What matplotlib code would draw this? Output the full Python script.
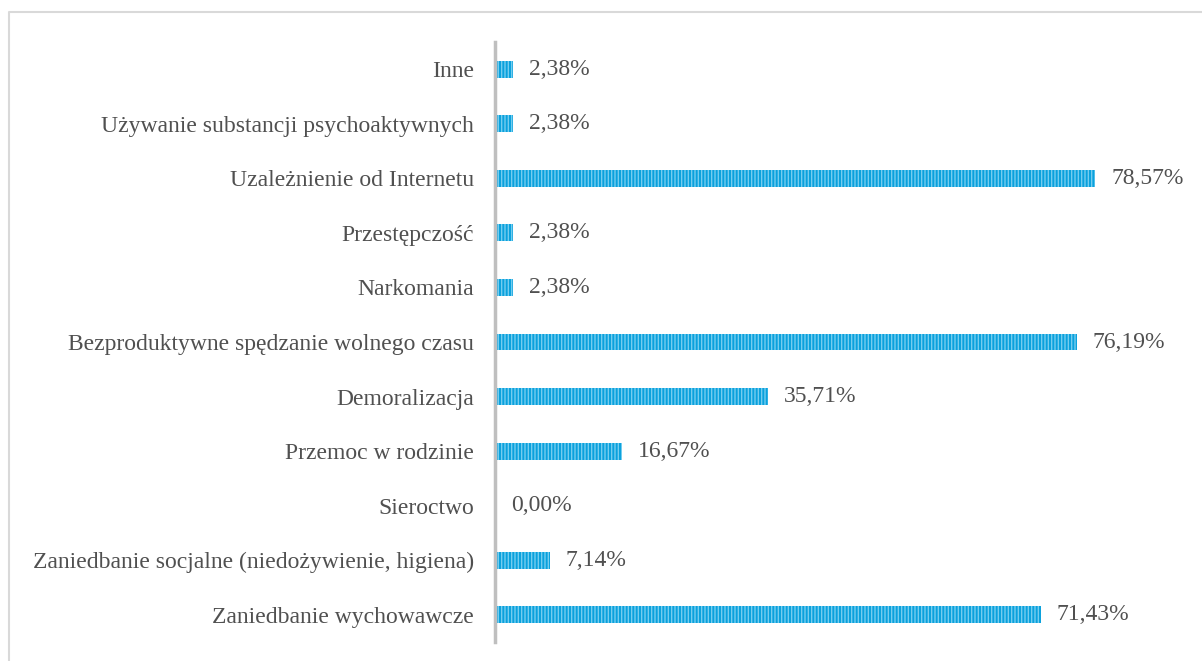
import matplotlib
matplotlib.use("Agg")
from matplotlib import pyplot as plt
from matplotlib.lines import Line2D

# dane (od dolu do gory)
kategorie = [
    "Zaniedbanie wychowawcze",
    "Zaniedbanie socjalne (niedożywienie, higiena)",
    "Sieroctwo",
    "Przemoc w rodzinie",
    "Demoralizacja",
    "Bezproduktywne spędzanie wolnego czasu",
    "Narkomania",
    "Przestępczość",
    "Uzależnienie od Internetu",
    "Używanie substancji psychoaktywnych",
    "Inne",
]
wartosci = [71.43, 7.14, 0.00, 16.67, 35.71, 76.19, 2.38, 2.38, 78.57, 2.38, 2.38]

plt.rcParams['font.family'] = ['Liberation Serif', 'DejaVu Serif']
plt.rcParams['hatch.linewidth'] = 1.0

W, H = 1202, 661
fig = plt.figure(figsize=(W / 100, H / 100), dpi=100)

# ramka wykresu (tylko gora i lewa strona widoczne)
fig.lines.append(Line2D([8.5 / W, 8.5 / W, 1], [0, (H - 12) / H, (H - 12) / H],
                        transform=fig.transFigure, color='#d9d9d9', linewidth=1.5))

ax = fig.add_axes([495 / W, 19 / H, (1190 - 495) / W, 600 / H])
y = range(len(kategorie))
ax.barh(y, wartosci, height=0.31, color='#0aa1dd', edgecolor='#74cdef',
        linewidth=0, hatch='|||||')

ax.set_xlim(0, (1190 - 495) / 7.637)
ax.set_ylim(-0.5, 10.5)
ax.set_yticks(list(y))
ax.set_yticklabels(kategorie, fontsize=17, color='#505050')
ax.tick_params(axis='y', length=0, pad=15)
ax.set_xticks([])

for s in ['top', 'right', 'bottom']:
    ax.spines[s].set_visible(False)
ax.spines['left'].set_color('#bfbfbf')
ax.spines['left'].set_linewidth(2.5)

for i, v in enumerate(wartosci):
    ax.text(v + 2.1, i, ("%.2f%%" % v).replace('.', ','), va='center', ha='left',
            fontsize=17, color='#505050')

plt.savefig("out.png", dpi=100)
